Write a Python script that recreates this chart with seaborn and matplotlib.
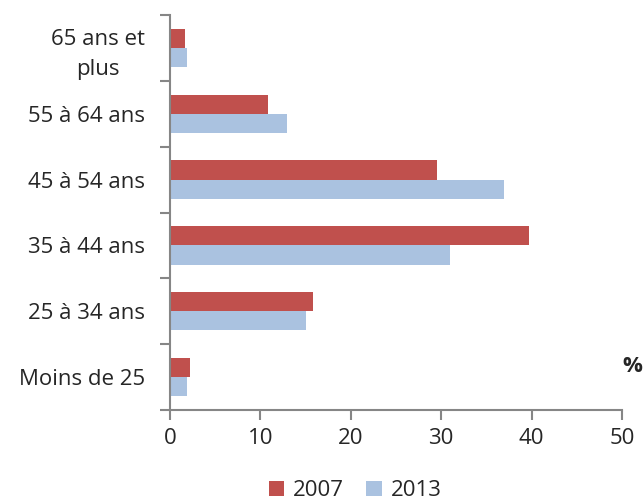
import pandas as pd
import matplotlib
matplotlib.use("Agg")
import matplotlib.pyplot as plt
import seaborn as sns

# Data (% of each age group)
ages = ["65 ans et\nplus", "55 à 64 ans", "45 à 54 ans", "35 à 44 ans", "25 à 34 ans", "Moins de 25"]
vals_2007 = [1.7, 10.8, 29.5, 39.7, 15.8, 2.2]
vals_2013 = [1.9, 12.9, 37.0, 31.0, 15.0, 1.9]
years = ["2007", "2013"]
colors = ["#C0504D", "#AAC2E0"]

df = pd.DataFrame({
    "age": ages * 2,
    "year": [years[0]] * len(ages) + [years[1]] * len(ages),
    "value": vals_2007 + vals_2013,
})

sns.set_style("white")
plt.rcParams["font.family"] = ["Open Sans", "DejaVu Sans"]
fs = 16

fig = plt.figure(figsize=(6.43, 5.04), dpi=100)
ax = fig.add_axes([170 / 643, 1 - 410 / 504, 452 / 643, 395 / 504])

sns.barplot(data=df, x="value", y="age", hue="year", order=ages, hue_order=years,
            palette=colors, width=0.58, saturation=1, linewidth=0, ax=ax, legend=True)

ax.set_xlim(0, 50)
ax.set_ylim(len(ages) - 0.5, -0.5)
ax.set_xticks(range(0, 51, 10))
ax.set_xlabel("")
ax.set_ylabel("")

grey = "#868686"
for side in ["top", "right"]:
    ax.spines[side].set_visible(False)
for side in ["left", "bottom"]:
    ax.spines[side].set_color(grey)
    ax.spines[side].set_linewidth(1.5)

# category boundaries get the tick marks, labels sit at the centers
ax.set_yticks([i - 0.5 for i in range(len(ages) + 1)], minor=True)
ax.tick_params(axis="y", which="major", left=False, length=0, pad=18, labelsize=fs)
ax.tick_params(axis="y", which="minor", left=True, length=7, color=grey, width=1.5)
ax.tick_params(axis="x", which="major", length=7, color=grey, width=1.5,
               direction="out", bottom=True, labelsize=fs, pad=6)
for lbl in ax.get_yticklabels():
    lbl.set_horizontalalignment("right")
    lbl.set_multialignment("center")
    lbl.set_linespacing(1.55)

ax.text(1.022, 0.11, "%", transform=ax.transAxes, fontsize=fs, fontweight="bold",
        ha="center", va="center")

handles, labels = ax.get_legend_handles_labels()
ax.legend(handles, labels, loc="upper center", bbox_to_anchor=(0.41, -0.155), ncol=2,
          frameon=False, fontsize=fs, handlelength=0.7, handleheight=0.7,
          columnspacing=1.0, handletextpad=0.4, borderaxespad=0)

fig.savefig("out.png", dpi=100)
